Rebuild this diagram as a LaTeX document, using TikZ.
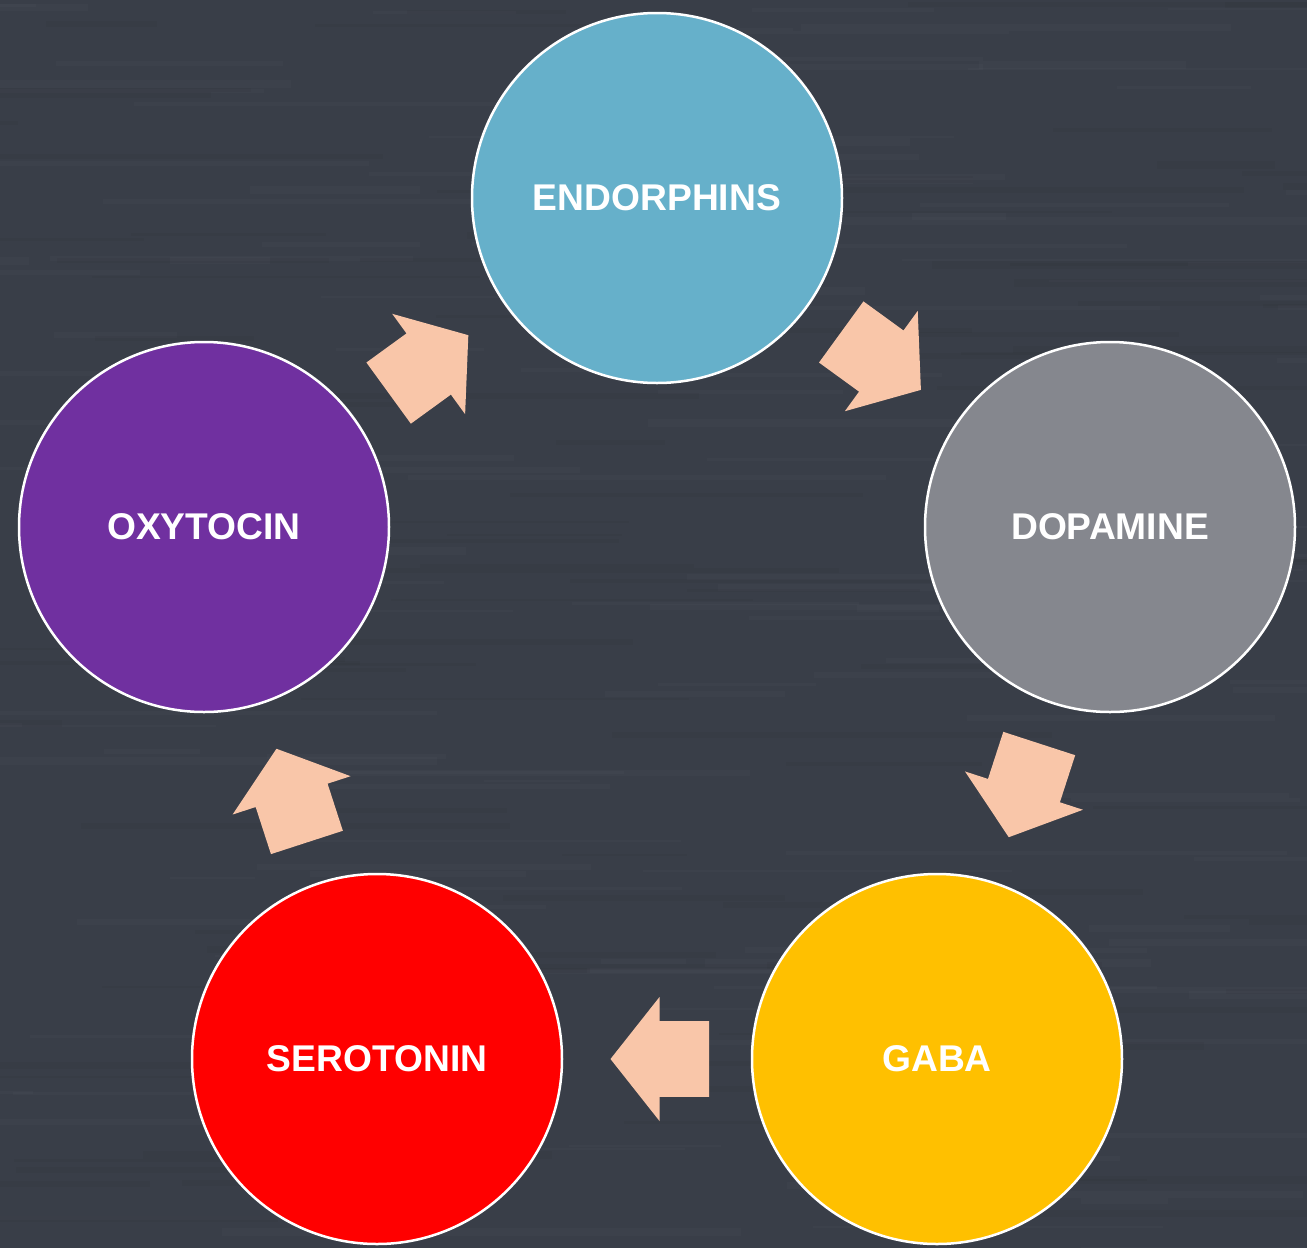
\documentclass[tikz,border=0pt]{standalone}
\usepackage{fontspec}
\setmainfont{Liberation Sans}
\definecolor{bgc}{HTML}{393E48}
\definecolor{endc}{HTML}{66B0CA}
\definecolor{dopc}{HTML}{85878E}
\definecolor{gabc}{HTML}{FFC000}
\definecolor{serc}{HTML}{FF0000}
\definecolor{oxyc}{HTML}{7030A0}
\definecolor{arrc}{HTML}{F9C6A9}
\tikzset{
  circ/.style={circle, draw=white, line width=2.5pt, minimum size=370pt, inner sep=0pt,
    text=white, font=\fontsize{37.2}{40}\selectfont\bfseries},
  blockarrow/.style={fill=arrc, draw=none}
}
\begin{document}
\begin{tikzpicture}[x=1pt,y=-1pt]
\useasboundingbox (0,0) rectangle (1307,1248);
\fill[bgc] (0,0) rectangle (1307,1248);
\begin{scope}
\clip (0,0) rectangle (1307,1248);
\pgfmathsetseed{11}
\foreach \i in {1,...,140}{
  \pgfmathsetmacro\xx{rnd*1500-200}
  \pgfmathsetmacro\yy{rnd*1248}
  \pgfmathsetmacro\ww{80+rnd*450}
  \pgfmathsetmacro\hh{2+rnd*6}
  \fill[white, opacity=0.018] (\xx,\yy) rectangle ++(\ww,\hh);
}
\foreach \i in {1,...,100}{
  \pgfmathsetmacro\xx{rnd*1500-200}
  \pgfmathsetmacro\yy{rnd*1248}
  \pgfmathsetmacro\ww{80+rnd*450}
  \pgfmathsetmacro\hh{2+rnd*6}
  \fill[black, opacity=0.03] (\xx,\yy) rectangle ++(\ww,\hh);
}
\end{scope}
\node[circ, fill=endc] (endo) at (657,198) {ENDORPHINS};
\node[circ, fill=dopc] (dopa) at (1110,527) {DOPAMINE};
\node[circ, fill=gabc] (gaba) at (937,1059) {GABA};
\node[circ, fill=serc] (sero) at (377,1059) {SEROTONIN};
\node[circ, fill=oxyc] (oxyt) at (204,527) {OXYTOCIN};
\foreach \a/\t in {54/36, -18/108, -90/180, 198/252, 126/-36}{
  \begin{scope}[shift={({657+385*cos(\a)},{674-385*sin(\a)})}, rotate=-\t]
    \fill[blockarrow] (-52,-37.8) -- (-2.5,-37.8) -- (-2.5,-62) -- (46.5,0)
      -- (-2.5,62) -- (-2.5,37.8) -- (-52,37.8) -- cycle;
  \end{scope}
}
\end{tikzpicture}
\end{document}
